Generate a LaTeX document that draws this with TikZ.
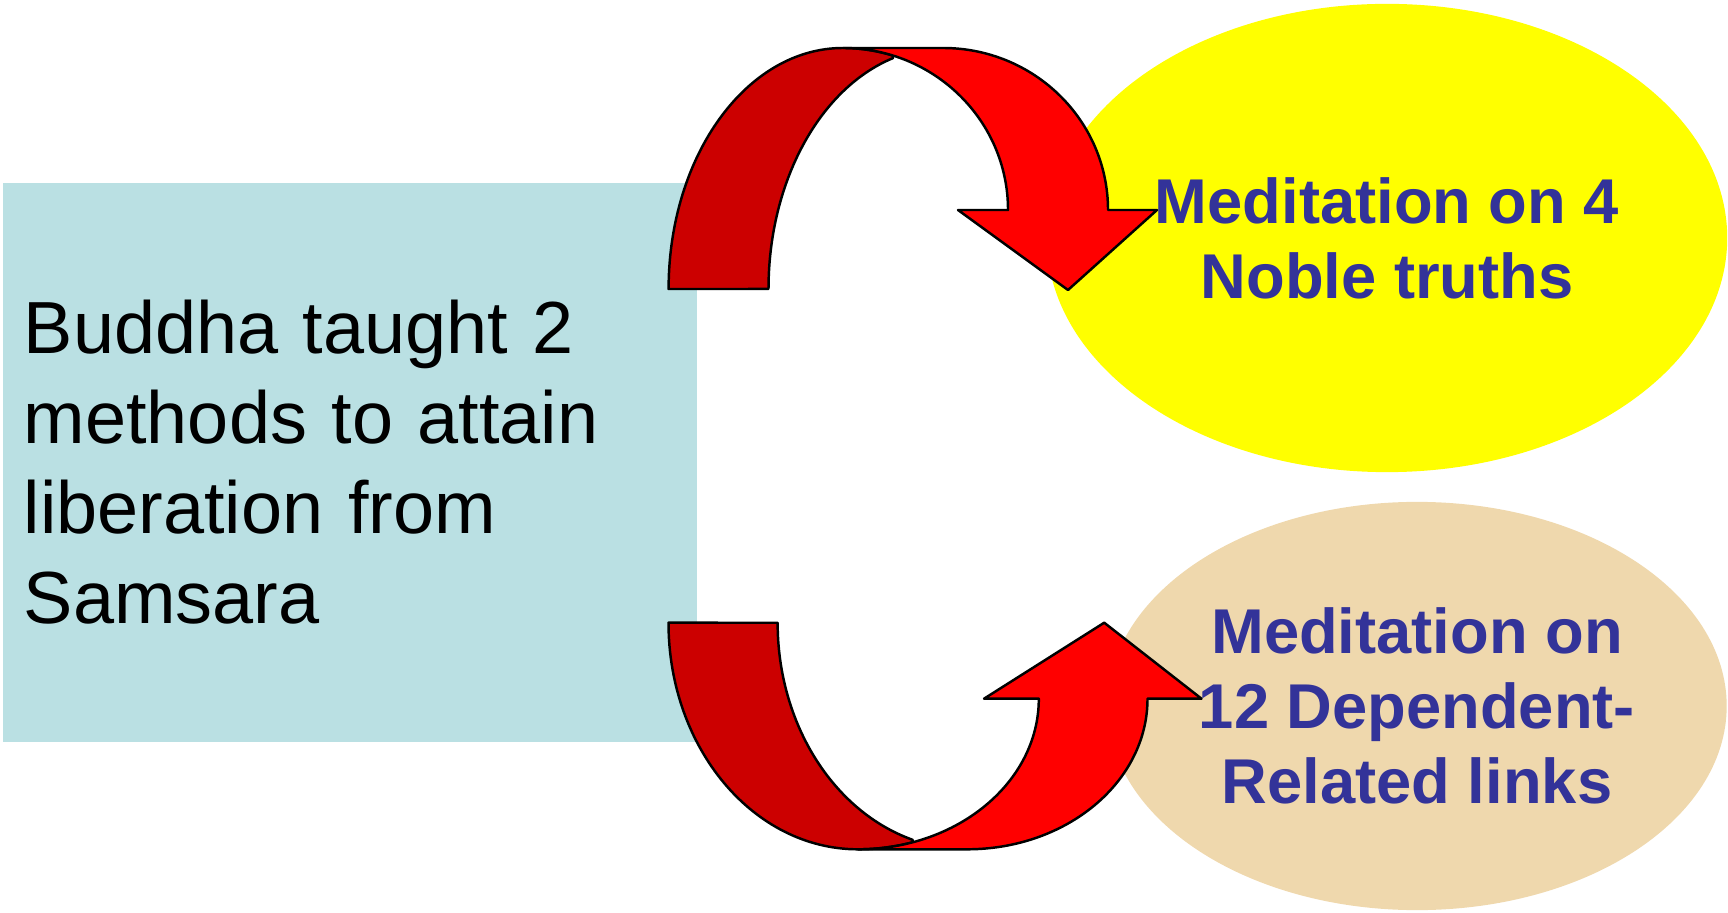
\documentclass[tikz,border=0pt]{standalone}
\usepackage{fontspec}
\setmainfont{Liberation Sans}
\usetikzlibrary{shapes.geometric}
\definecolor{boxblue}{RGB}{186,224,227}
\definecolor{truthyellow}{RGB}{255,255,0}
\definecolor{linktan}{RGB}{239,216,173}
\definecolor{textblue}{RGB}{51,51,153}
\definecolor{backred}{RGB}{204,0,0}
\definecolor{frontred}{RGB}{255,0,0}
\tikzset{
    x=0.01cm,
    y=0.01cm,
    every node/.style={inner sep=0pt},
    method/.style={ellipse, text=textblue, align=center, font=\fontsize{18}{21.3}\selectfont\bfseries},
    back/.style={fill=backred, draw=black, line width=0.7pt, line join=round},
    front/.style={fill=frontred, draw=black, line width=0.7pt, line join=round},
}

\begin{document}
\begin{tikzpicture}
        \useasboundingbox (0,0) rectangle (1728,912);

        \node[fill=boxblue, minimum width=6.94cm, minimum height=5.59cm, text width=6.52cm, align=left,
            font=\fontsize{21}{25.6}\selectfont] (teach) at (350,449.5)
            {Buddha taught 2\\ methods to attain\\ liberation from\\ Samsara};
        \node[method, fill=truthyellow, minimum width=6.8cm, minimum height=4.68cm] (truths) at (1387,674)
            {Meditation on 4\\ Noble truths};
        \node[method, fill=linktan, minimum width=6.19cm, minimum height=4.08cm] (links) at (1417,206)
            {Meditation on\\ 12 Dependent-\\ Related links};

        \draw[back] (668.6,623) arc[start angle=180, end angle=90, x radius=174.4, y radius=241]
            arc[start angle=90, end angle=72.4, x radius=165, y radius=162]
            -- (893,853.9) arc[start angle=106.65, end angle=180, x radius=174.5, y radius=241] -- cycle;
        \draw[front] (843,864) -- (943,864) arc[start angle=90, end angle=0, x radius=165, y radius=162]
            -- (1157,702) -- (1068,622) -- (958,702) -- (1008,702)
            arc[start angle=0, end angle=90, x radius=165, y radius=162] -- cycle;

        \draw[back] (668.5,289.3) arc[start angle=180, end angle=270, x radius=189.5, y radius=226.6]
            arc[start angle=270, end angle=287.6, x radius=180.8, y radius=150.6]
            -- (912.6,72.2) arc[start angle=253.3, end angle=180, x radius=189.4, y radius=226.6] -- cycle;
        \draw[front] (858,62.7) -- (967,62.7) arc[start angle=270, end angle=360, x radius=180.5, y radius=150.6]
            -- (1201.5,213.3) -- (1104.2,289.3) -- (984,213.3) -- (1038.8,213.3)
            arc[start angle=0, end angle=-90, x radius=180.8, y radius=150.6] -- cycle;
    \end{tikzpicture}
\end{document}
